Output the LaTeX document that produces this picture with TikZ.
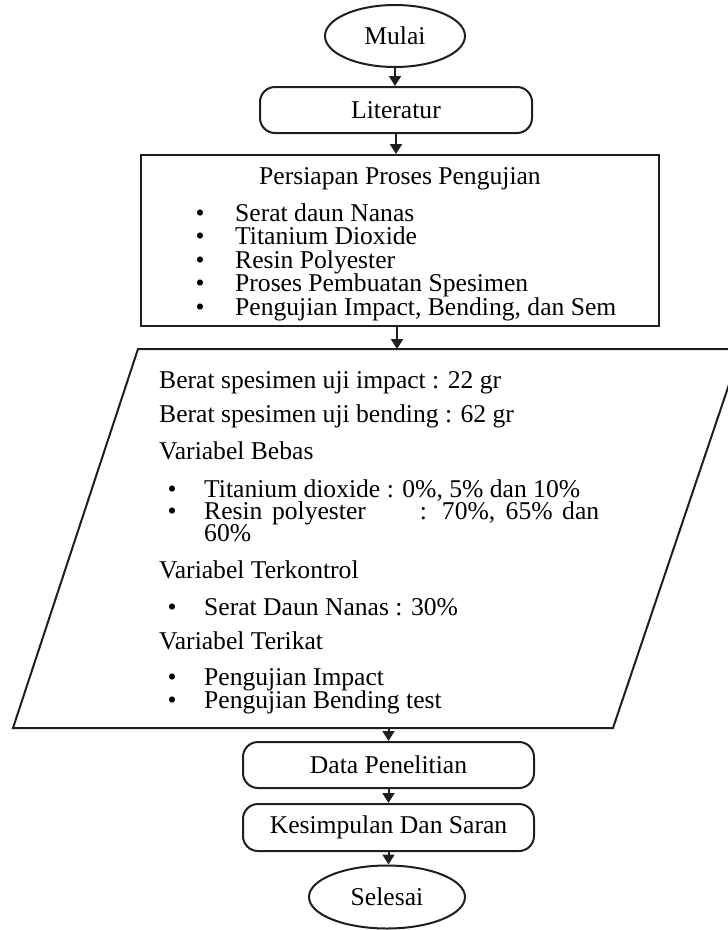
\documentclass[tikz,border=0pt]{standalone}
\usepackage{fontspec}
\setmainfont{Liberation Serif}
\usetikzlibrary{shapes.geometric,arrows.meta}
\begin{document}
\begin{tikzpicture}[x=1pt,y=-1pt,
  every node/.style={font=\fontsize{25.6pt}{30pt}\selectfont, inner sep=0pt, text=black},
  lw/.style={line width=2pt, draw=black!88},
  arr/.style={line width=2pt, draw=black!88, -{Triangle[length=10pt,width=12pt]}},
  rbox/.style={lw, rectangle, rounded corners=15pt},
  oval/.style={lw, ellipse},
  txt/.style={anchor=base west},
  bul/.style={anchor=base},
]
\useasboundingbox (0,0) rectangle (728,930);
\clip (0,0) rectangle (728,930);

% start
\node[oval, minimum width=140pt, minimum height=62pt] (mulai) at (395,36) {Mulai};
\node[rbox, minimum width=272pt, minimum height=46pt] (lit) at (396,110) {Literatur};

% preparation box
\node[lw, rectangle, minimum width=518pt, minimum height=171pt] (pers) at (400,240.5) {};
\node[anchor=base] (ptitle) at (400,184) {Persiapan Proses Pengujian};
\node[bul] (pb1) at (200,221) {\textbullet};
\node[txt] (pt1) at (235,221) {Serat daun Nanas};
\node[bul] (pb2) at (200,244.5) {\textbullet};
\node[txt] (pt2) at (235,244.5) {Titanium Dioxide};
\node[bul] (pb3) at (200,268) {\textbullet};
\node[txt] (pt3) at (235,268) {Resin Polyester};
\node[bul] (pb4) at (200,291.5) {\textbullet};
\node[txt] (pt4) at (235,291.5) {Proses Pembuatan Spesimen};
\node[bul] (pb5) at (200,315) {\textbullet};
\node[txt] (pt5) at (235,315) {Pengujian Impact, Bending, dan Sem};

% parallelogram (input / data)
\coordinate (pa) at (138,349);
\coordinate (pbr) at (741,349);
\coordinate (pc) at (613,728);
\coordinate (pd) at (13,728);
\coordinate (ptop) at (397,349);
\coordinate (pbot) at (388.5,728);
\draw[lw] (pa) -- (pbr) -- (pc) -- (pd) -- cycle;

\node[txt] (v1) at (159,388) {Berat spesimen uji impact : 22 gr};
\node[txt] (v2) at (159,422) {Berat spesimen uji bending : 62 gr};
\node[txt] (v3) at (159,459) {Variabel Bebas};
\node[bul] (vb1) at (172,497) {\textbullet};
\node[txt] (v4) at (204,497) {Titanium dioxide : 0\%, 5\% dan 10\%};
\node[bul] (vb2) at (172,519) {\textbullet};
\node[txt] (v5) at (204,519) {\makebox[395pt][s]{Resin polyester\hspace{54pt}: 70\%, 65\% dan}};
\node[txt] (v6) at (204,541) {60\%};
\node[txt] (v7) at (159,578) {Variabel Terkontrol};
\node[bul] (vb3) at (172,615) {\textbullet};
\node[txt] (v8) at (204,615) {Serat Daun Nanas : 30\%};
\node[txt] (v9) at (159,649) {Variabel Terikat};
\node[bul] (vb4) at (172,685) {\textbullet};
\node[txt] (v10) at (204,685) {Pengujian Impact};
\node[bul] (vb5) at (172,708) {\textbullet};
\node[txt] (v11) at (204,708) {Pengujian Bending test};

% end part
\node[rbox, minimum width=291pt, minimum height=46pt] (data) at (388.5,765) {Data Penelitian};
\node[rbox, minimum width=291pt, minimum height=47pt] (kes) at (388.5,827.5) {Kesimpulan Dan Saran};
\node[oval, minimum width=156pt, minimum height=63pt] (selesai) at (387,897) {Selesai};

% connectors
\draw[arr] (mulai.south) -- (mulai.south |- lit.north);
\draw[arr] (lit.south) -- (lit.south |- pers.north);
\draw[arr] (pers.south -| ptop) -- (ptop);
\draw[arr] (pbot) -- (data.north);
\draw[arr] (data.south) -- (kes.north);
\draw[arr] (kes.south) -- (kes.south |- selesai.north);
\end{tikzpicture}
\end{document}
